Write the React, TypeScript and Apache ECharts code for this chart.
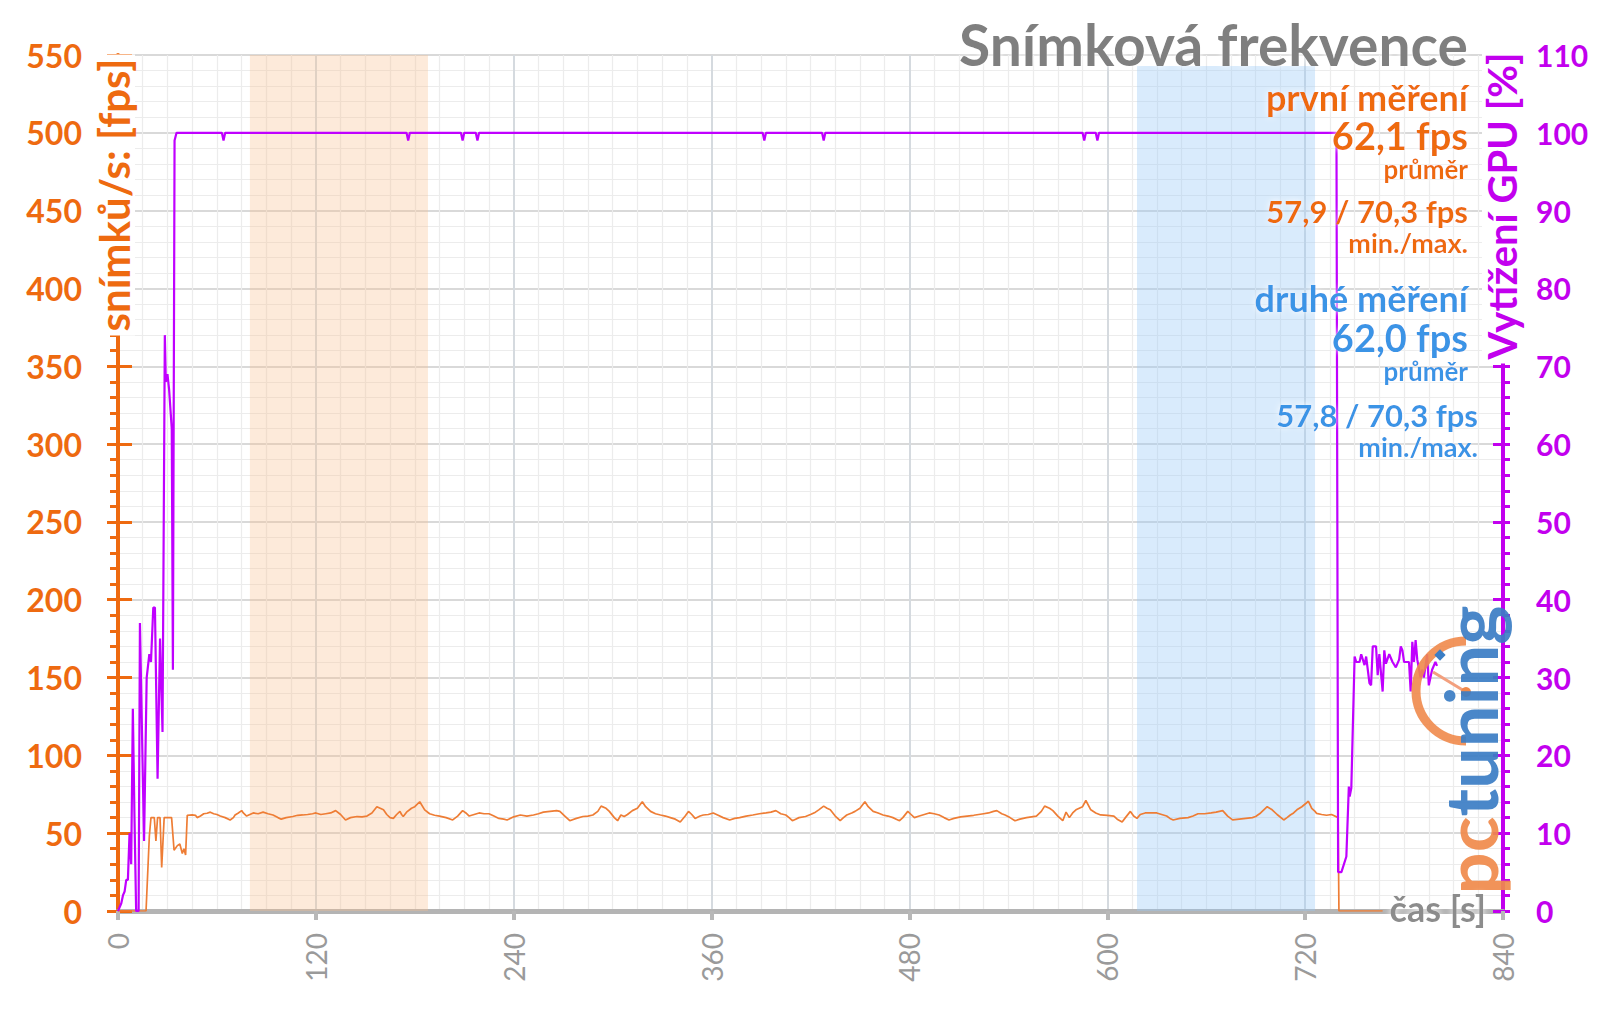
import { useEffect, useRef } from 'react';
import * as echarts from 'echarts';

// ---- data ----
const fpsSamples: [number, number][] = [
  [0,0],[17,0],[19,48],[20,60],[22,60],[23,45],[24,60],[25.5,60],[26.5,28],[28,60],[32.5,60],[34,39],[36,42],[37.5,43],[39,37],[40,40],[41,36],[42,61.5],
  [45,61.8],[47,61.5],[48,60],[50,61],[52,62.5],[54,62.8],[56,63.5],[58,62.5],[60,62],[62,61],[65,60],[68,58.5],[70,60],[71,61.7],[73,63],[75,64.5],[76,63],[78,61],
  [80,62],[82,63],[85,62.5],[88,63.5],[91,62.5],[94,61.7],[97,60],[99,59],[102,60],[106,60.7],[109,61.5],[112,61.7],[115,62],[118,62.5],
  [120,63],[123,62],[126,62.5],[129,63],[132,64.5],[135,62],[138,58.5],[141,60],[145,60.7],[148,60.5],[151,61],[154,63],[157,67],[159,66],[161,65],[163,62],[165,60],[167,59.5],[169,62],[171,64],[172,62],[173,60.7],[175,63.5],[178,66],[180,67],[183,70.2],[186,65],[189,62.5],[192,61.5],[195,61],[199,60],[203,58.5],[206,61],[209,64.5],[211,63],[213,61],[216,62],[219,63],[222,62.5],[225,62.5],[228,61],[231,59.5],[234,59],[236,58.5],
  [240,60.5],[244,61.7],[248,61],[252,61.7],[255,62.5],[258,63.5],[262,64],[266,64.5],[268,64],[271,61],[274,58],[278,59.5],[282,60.7],[285,61],[288,61.7],[291,64],[293,67.4],[296,66],[298,64],[301,60],[303,58],[305,61.7],[307,60.7],[309,62],[312,64.5],[315,66],[318,70.2],[320,67],[323,64],[326,62.5],[329,61.7],[332,61],[335,60],[338,59],[341,57.2],[344,61],[346,64],[348,62],[350,59.5],[353,61],[355,61.7],[358,62],
  [361,63],[364,61.5],[367,60],[371,58.5],[374,59.5],[377,60],[381,61],[385,61.7],[389,62.5],[393,63],[396,63.5],[399,64.5],[402,62.5],[405,61.7],[407,60],[409,58],[411,59],[413,60],[417,60.7],[420,62],[423,63.5],[425,65],[428,67.4],[430,66],[432,65],[435,61],[438,58],[440,60],[442,61.7],[445,63],[447,64],[450,66],[453,70.2],[455,67],[458,64],[461,63],[464,61.7],[467,61],[470,60],[472,59],[474,58],[476,60],[479,64],[481,62],[483,60],[486,61],[489,62],[492,63],[495,62.5],[498,61.7],[501,60],[504,58.5],[507,59.5],[511,60.5],[515,61],[519,61.5],[522,62],[525,62.5],[528,63],[531,64],[533,64.5],[536,62.5],[538,61.7],[541,60],[544,58],[547,59],[551,60],[554,60.5],[557,61],[560,64],[562,67.4],[565,66],[567,64.5],[570,61],[573,58],[575,63.5],[577,60],[579,63],[581,65],[583,66],[585,67],[587,71],[590,65],[593,63],[596,61.7],[600,61.5],[604,61],[606,59],[609,57.2],[611,60],[614,64],[616,61],[618,59.5],[620,62],[623,63],[627,63],[630,63],[633,62],[636,61],[638,59.5],[640,58.5],[644,59.5],[649,60],[652,61],[655,62.5],[659,62.5],[663,63],[666,63.5],[670,64.5],[673,61],[676,58.5],[680,59],[684,59.5],[688,60],[690,60.7],[693,63],[697,67],[700,65],[703,62],[707,58.5],[709,60],[711,61.7],[713,63],[715,65],[718,67],[722,70.5],[724,66],[726,64],[727,62.7],[730,62],[733,61.5],[736,62],[737,61.5],[740,60],[740.5,0],[767,0]
];

const gpuSamples: [number, number][] = [
  [0,0],[2,1],[3,2],[4,2.5],[5,4],[6,4],[7,10],[8,6],[9,26],[10,12],[11,0],[12.5,0],[13.3,37],[15.8,9],[17.4,30],[19,33],[20,32],[21.4,39],[22.4,39],[24,17],[25.5,35],[27,23],[28.4,74],[29,68],[30,69],[31,67],[32.6,62],[33.3,31],[34.3,99],[35.5,100],
  [63,100],[64,99],[65,100],[175,100],[176,99],[177,100],[208,100],[209,99],[210,100],[217,100],[218,99],[219,100],[391,100],[392,99],[393,100],[427,100],[428,99],[429,100],[585,100],[586,99],[587,100],[593,100],[594,99],[595,100],[739,100],
  [740,5],[742,5],[745,7],[746.5,16],[747,14.7],[748,15.8],[750,32.7],[751,32],[753,32],[754,33],[756,31.6],[757,32.7],[759,29.3],[760,29],[761,34],[763,34],[764,30.3],[765,33],[767,28.2],[768,33.5],[769,31.8],[771,33],[773,32],[775,31.3],[777,32.3],[778,34],[779,33.5],[780,32],[783,32],[784,28.2],[785,34.6],[786,32],[787,34.8],[788,32.3],[790,30],[791,31],[792,30],[794,33],[795,29],[797,31],[799,32],[800,31.5]
];

const firstBand = [80, 188];
const secondBand = [618, 726];

const titleText = 'Snímková frekvence';
const leftAxisName = 'snímků/s: [fps]';
const rightAxisName = 'Vytížení GPU [%]';
const xAxisName = 'čas [s]';

const firstRun = { name: 'první měření', avg: '62,1 fps', avgLabel: 'průměr', minmax: '57,9 / 70,3 fps', minmaxLabel: 'min./max.' };
const secondRun = { name: 'druhé měření', avg: '62,0 fps', avgLabel: 'průměr', minmax: '57,8 / 70,3 fps', minmaxLabel: 'min./max.' };

const ORANGE = '#ee6a10';
const FPS_LINE = '#ee7d35';
const MAGENTA = '#c200ee';
const BLUE = '#3a94e6';
const FONT = 'Lato, "Open Sans", sans-serif';

export default function App() {
  const ref = useRef<HTMLDivElement>(null);
  useEffect(() => {
    if (!ref.current) return;
    const chart = echarts.init(ref.current, null, { renderer: 'svg' });
    const glow = { textShadowColor: '#ffffff', textShadowBlur: 6 };
    const txt = (text: string, x: number, y: number, size: number, color: string, extra: any = {}) => ({
      type: 'text', x, y, z: 100,
      style: { text, x: 0, y: 0, fill: color, font: `bold ${size}px ${FONT}`, align: 'right', verticalAlign: 'middle', ...glow, ...extra },
    });
    const option: any = {
      animation: false,
      backgroundColor: '#ffffff',
      grid: { left: 118, right: 97, top: 55, bottom: 98, outerBoundsMode: 'none', containLabel: false },
      xAxis: {
        type: 'value', min: 0, max: 840, interval: 120,
        axisLine: { show: true, onZero: false, lineStyle: { color: '#b4b4b4', width: 5 } },
        axisTick: { show: true, length: 9, lineStyle: { color: '#b8b8b8', width: 4 } },
        axisLabel: { rotate: 90, color: '#9a9a9a', fontSize: 28, fontFamily: FONT, margin: 22 },
        splitLine: { show: true, lineStyle: { color: '#d5dadf', width: 2 } },
        minorTick: { show: false, splitNumber: 8 },
        minorSplitLine: { show: true, lineStyle: { color: '#ececec', width: 1.2 } },
      },
      yAxis: [
        {
          type: 'value', position: 'left', min: 0, max: 550, interval: 50,
          axisLine: { show: true, lineStyle: { color: ORANGE, width: 4 } },
          axisTick: { show: true, length: 11, lineStyle: { color: ORANGE, width: 3 } },
          minorTick: { show: true, splitNumber: 5, length: 8, lineStyle: { color: ORANGE, width: 3 } },
          axisLabel: { color: ORANGE, fontSize: 32, fontWeight: 'bold', fontFamily: FONT, margin: 36 },
          splitLine: { show: true, lineStyle: { color: '#d9d9d9', width: 2 } },
          minorSplitLine: { show: true, lineStyle: { color: '#ececec', width: 1.2 } },
        },
        {
          type: 'value', position: 'left', offset: 0, min: 0, max: 550, interval: 50,
          axisLine: { show: false },
          axisTick: { show: true, inside: true, length: 14, lineStyle: { color: ORANGE, width: 3 } },
          axisLabel: { show: false }, splitLine: { show: false },
        },
        {
          type: 'value', position: 'right', min: 0, max: 110, interval: 10,
          axisLine: { show: true, lineStyle: { color: MAGENTA, width: 4 } },
          axisTick: { show: true, length: 7, lineStyle: { color: MAGENTA, width: 3 } },
          minorTick: { show: true, splitNumber: 5, length: 7, lineStyle: { color: MAGENTA, width: 3 } },
          axisLabel: { color: MAGENTA, fontSize: 30, fontWeight: 'bold', fontFamily: FONT, margin: 33 },
          splitLine: { show: false },
        },
        {
          type: 'value', position: 'right', offset: 0, min: 0, max: 110, interval: 10,
          axisLine: { show: false },
          axisTick: { show: true, inside: true, length: 10, lineStyle: { color: MAGENTA, width: 3 } },
          axisLabel: { show: false }, splitLine: { show: false },
        },
      ],
      series: [
        {
          type: 'line', name: 'fps', xAxisIndex: 0, yAxisIndex: 0,
          data: fpsSamples, showSymbol: false, symbol: 'none', z: 3,
          lineStyle: { color: FPS_LINE, width: 1.7 },
          markArea: {
            silent: true,
            data: [
              [{ xAxis: firstBand[0], itemStyle: { color: 'rgba(250,190,140,0.32)' } }, { xAxis: firstBand[1] }],
              [{ xAxis: secondBand[0], yAxis: 0, itemStyle: { color: 'rgba(150,200,248,0.36)' } }, { xAxis: secondBand[1], yAxis: 543 }],
            ],
          },
        },
        {
          type: 'line', name: 'gpu', xAxisIndex: 0, yAxisIndex: 2,
          data: gpuSamples, showSymbol: false, symbol: 'none', z: 4,
          lineStyle: { color: '#c000ff', width: 2.2 },
        },
      ],
      graphic: [
        // logo
        {
          type: 'arc', z: 50,
          shape: { cx: 1466, cy: 691, r: 50, startAngle: Math.PI / 2, endAngle: Math.PI * 1.5, clockwise: true },
          style: { stroke: '#f08a4b', lineWidth: 9, fill: 'none', opacity: 0.9 },
        },
        { type: 'line', z: 50, shape: { x1: 1466, y1: 692, x2: 1433, y2: 672 }, style: { stroke: '#f3a07e', lineWidth: 3 } },
        { type: 'circle', z: 50, shape: { cx: 1466, cy: 692, r: 5 }, style: { fill: '#f08a4b' } },
        { type: 'rect', z: 50, x: 1440, y: 655, rotation: Math.PI / 4, shape: { x: -4, y: -4, width: 8, height: 8 }, style: { fill: '#3b7dc4' } },
        {
          type: 'text', z: 50, x: 1470, y: 750, rotation: Math.PI / 2, scaleX: 1.03,
          style: {
            text: '{o|pc}{b|tuning}', x: 0, y: 0, align: 'center', verticalAlign: 'middle',
            font: `bold 72px ${FONT}`, opacity: 0.92,
            rich: {
              o: { fill: '#f08a4b', font: `bold 72px ${FONT}` },
              b: { fill: '#3b7dc4', font: `bold 72px ${FONT}` },
            },
          },
        },
        // title
        txt(titleText, 1468, 44, 57, '#7f7f7f'),
        // first run
        txt(firstRun.name, 1468, 97, 36, ORANGE),
        txt(firstRun.avg, 1468, 135, 38, ORANGE),
        txt(firstRun.avgLabel, 1468, 169, 26, ORANGE),
        txt(firstRun.minmax, 1468, 211, 31, ORANGE),
        txt(firstRun.minmaxLabel, 1468, 242, 27, ORANGE),
        // second run
        txt(secondRun.name, 1468, 298, 36, BLUE),
        txt(secondRun.avg, 1468, 337, 38, BLUE),
        txt(secondRun.avgLabel, 1468, 371, 26, BLUE),
        txt(secondRun.minmax, 1478, 415, 31, BLUE),
        txt(secondRun.minmaxLabel, 1478, 446, 27, BLUE),
        // axis names
        {
          type: 'text', z: 60, x: 114, y: 195, rotation: Math.PI / 2,
          style: { text: leftAxisName, x: 0, y: 0, align: 'center', verticalAlign: 'middle', fill: ORANGE, font: `bold 42px ${FONT}`, backgroundColor: '#ffffff', padding: [0, 4] },
        },
        {
          type: 'text', z: 60, x: 1502, y: 206, rotation: Math.PI / 2,
          style: { text: rightAxisName, x: 0, y: 0, align: 'center', verticalAlign: 'middle', fill: MAGENTA, font: `bold 40px ${FONT}`, backgroundColor: '#ffffff', padding: [0, 4] },
        },
        {
          type: 'text', z: 60, x: 1486, y: 908,
          style: { text: xAxisName, x: 0, y: 0, align: 'right', verticalAlign: 'middle', fill: '#8c8c8c', font: `bold 36px ${FONT}`, ...glow },
        },
      ],
    };
    chart.setOption(option);
    return () => chart.dispose();
  }, []);
  return <div ref={ref} style={{ position: 'fixed', left: 0, top: 0, width: 1600, height: 1009 }} />;
}
